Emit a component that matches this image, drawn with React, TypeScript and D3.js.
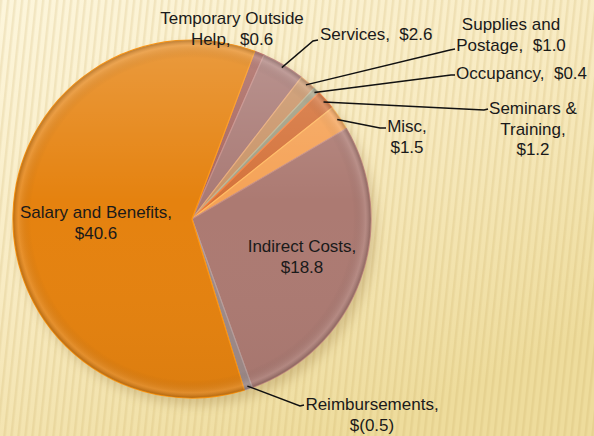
import React from 'react';
import * as d3 from 'd3';

// slice order follows the chart clockwise, starting at the top
const categories = [
  'Temporary Outside Help',
  'Services',
  'Supplies and Postage',
  'Occupancy',
  'Seminars & Training',
  'Misc',
  'Indirect Costs',
  'Reimbursements',
  'Salary and Benefits',
];
const values = [0.6, 2.6, 1.0, 0.4, 1.2, 1.5, 18.8, -0.5, 40.6];
const valueLabels = ['$0.6', '$2.6', '$1.0', '$0.4', '$1.2', '$1.5', '$18.8', '$(0.5)', '$40.6'];
const sliceColors = [
  '#A8665E',
  '#A97A75',
  '#C99468',
  '#A29E82',
  '#D4723A',
  '#F5A256',
  '#AC7A72',
  '#9E8A88',
  '#E5820F',
];

// label text lines + placement (layout only)
const labelLines = [
  ['Temporary Outside', 'Help,  ' + valueLabels[0]],
  ['Services,  ' + valueLabels[1]],
  ['Supplies and', 'Postage,  ' + valueLabels[2]],
  ['Occupancy,  ' + valueLabels[3]],
  ['Seminars &', 'Training,', valueLabels[4]],
  ['Misc,', valueLabels[5]],
  ['Indirect Costs,', valueLabels[6]],
  ['Reimbursements,', valueLabels[7]],
  ['Salary and Benefits,', valueLabels[8]],
];
type Lab = { x: number; y: number; anchor: string; elbow?: [number, number]; end?: [number, number] };
const labelLayout: Lab[] = [
  { x: 232, y: 24, anchor: 'middle' },
  { x: 320, y: 40, anchor: 'start', elbow: [313, 41], end: [318, 40] },
  { x: 511, y: 30, anchor: 'middle', elbow: [450, 50], end: [455, 49] },
  { x: 456, y: 79, anchor: 'start', elbow: [451, 75], end: [455, 75] },
  { x: 533, y: 114, anchor: 'middle', elbow: [484, 110], end: [488, 109] },
  { x: 407, y: 132, anchor: 'middle', elbow: [380, 128], end: [386, 128] },
  { x: 302, y: 252, anchor: 'middle' },
  { x: 372, y: 410, anchor: 'middle', elbow: [300, 406], end: [304, 405] },
  { x: 96, y: 218, anchor: 'middle' },
];

const W = 594;
const H = 436;
const cx = 192;
const cy = 219;
const R = 179;
const startDeg = 20.5;

const App = () => {
  const pie = d3
    .pie<number>()
    .sort(null)
    .value((d) => Math.abs(d))
    .startAngle((startDeg * Math.PI) / 180)
    .endAngle((startDeg * Math.PI) / 180 + Math.PI * 2);
  const arcs = pie(values);
  const arc = d3.arc<d3.PieArcDatum<number>>().innerRadius(0).outerRadius(R);
  const edge = d3.arc<d3.PieArcDatum<number>>().innerRadius(R - 3).outerRadius(R - 3);
  const lineGen = d3.line();

  return (
    <svg width={W} height={H} style={{ position: 'absolute', left: 0, top: 0 }}>
      <defs>
        <linearGradient id="bg" x1="0" y1="0" x2="0.6" y2="1">
          <stop offset="0%" stopColor="#FDF6DC" />
          <stop offset="50%" stopColor="#F8EBC2" />
          <stop offset="100%" stopColor="#EEDC9C" />
        </linearGradient>
        <pattern id="stripes" width="7" height="40" patternUnits="userSpaceOnUse" patternTransform="skewX(-6)">
          <rect x="0" y="0" width="2.5" height="40" fill="#C8A860" opacity="0.2" />
        </pattern>
        <linearGradient id="shade" x1="0" y1="0" x2="0" y2="1">
          <stop offset="0%" stopColor="#fff" stopOpacity="0.2" />
          <stop offset="45%" stopColor="#fff" stopOpacity="0" />
          <stop offset="100%" stopColor="#000" stopOpacity="0.04" />
        </linearGradient>
        <radialGradient id="rim" cx="0.5" cy="0.5" r="0.5">
          <stop offset="90%" stopColor="#000" stopOpacity="0" />
          <stop offset="97%" stopColor="#fff" stopOpacity="0.12" />
          <stop offset="100%" stopColor="#000" stopOpacity="0.2" />
        </radialGradient>
        <filter id="shadow" x="-20%" y="-20%" width="140%" height="140%">
          <feGaussianBlur stdDeviation="6" />
        </filter>
      </defs>

      <rect width={W} height={H} fill="url(#bg)" />
      <rect width={W} height={H} fill="url(#stripes)" />

      <g transform={`translate(${cx},${cy})`}>
        <circle cx={5} cy={7} r={R} fill="#8A6A30" opacity={0.28} filter="url(#shadow)" />
        {arcs.map((d, i) => (
          <path
            key={categories[i]}
            d={arc(d) || ''}
            fill={sliceColors[i]}
            stroke={d3.color(sliceColors[i])!.brighter(0.4).formatHex()}
            strokeWidth={1.2}
            strokeLinejoin="round"
          />
        ))}
        <circle r={R} fill="url(#shade)" />
        <circle r={R} fill="url(#rim)" />
      </g>

      {arcs.map((d, i) => {
        const lay = labelLayout[i];
        if (!lay.elbow || !lay.end) return null;
        const [ex, ey] = edge.centroid(d);
        const pts: [number, number][] = [[cx + ex, cy + ey], lay.elbow, lay.end];
        return (
          <path key={'l' + i} d={lineGen(pts) || ''} fill="none" stroke="#111" strokeWidth={1.4} />
        );
      })}

      {labelLines.map((lines, i) => {
        const lay = labelLayout[i];
        return (
          <text
            key={'t' + i}
            x={lay.x}
            y={lay.y}
            textAnchor={lay.anchor}
            fontFamily="'Liberation Sans', Arial, sans-serif"
            fontSize={17}
            fill="#1A1A1A"
          >
            {lines.map((ln, j) => (
              <tspan key={j} x={lay.x} dy={j === 0 ? 0 : 20.5} style={{ whiteSpace: 'pre' }}>
                {ln}
              </tspan>
            ))}
          </text>
        );
      })}
    </svg>
  );
};

export default App;
